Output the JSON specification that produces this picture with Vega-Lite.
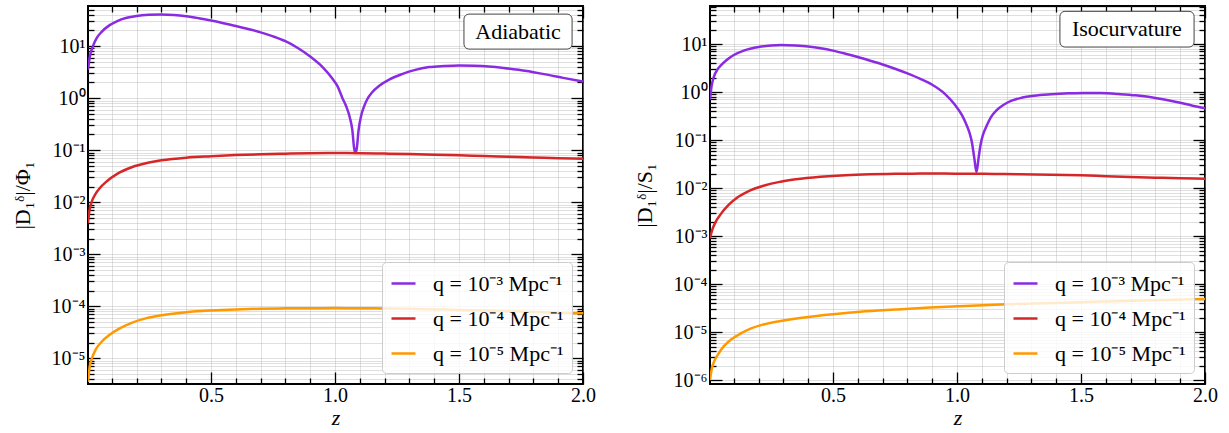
{
  "$schema": "https://vega.github.io/schema/vega-lite/v6.json",
  "padding": {"left": 10, "top": 4, "right": 5, "bottom": 3},
  "background": "white",
  "config": {
    "font": "Liberation Serif",
    "view": {"stroke": "black", "strokeWidth": 2},
    "axis": {
      "domain": false,
      "labelFont": "Liberation Serif",
      "labelColor": "black",
      "titleFont": "Liberation Serif",
      "titleFontSize": 22,
      "titleFontWeight": "normal",
      "titleColor": "black",
      "tickColor": "black",
      "tickWidth": 1.3,
      "gridColor": "#b8b8b8",
      "gridOpacity": 0.45,
      "gridWidth": 1,
      "labelOverlap": false,
      "labelFlush": false,
      "labelBound": false
    },
    "legend": {
      "orient": "bottom-right",
      "offset": 11,
      "labelFont": "Liberation Serif",
      "labelFontSize": 22,
      "labelColor": "black",
      "symbolType": "stroke",
      "symbolStrokeWidth": 2.5,
      "symbolSize": 576,
      "fillColor": "rgba(255,255,255,0.8)",
      "strokeColor": "#cccccc",
      "cornerRadius": 4,
      "padding": 8,
      "rowPadding": 10,
      "labelOffset": 16
    }
  },
  "datasets": {
    "adiabatic": [
      {"z":0.004,"v":3.5,"q":"10⁻³"},{"z":0.012,"v":6.5,"q":"10⁻³"},{"z":0.024,"v":10,"q":"10⁻³"},{"z":0.04,"v":14.5,"q":"10⁻³"},{"z":0.06,"v":19,"q":"10⁻³"},{"z":0.09,"v":25,"q":"10⁻³"},{"z":0.12,"v":30,"q":"10⁻³"},{"z":0.16,"v":35,"q":"10⁻³"},{"z":0.2,"v":38,"q":"10⁻³"},{"z":0.25,"v":40,"q":"10⁻³"},{"z":0.3,"v":40.7,"q":"10⁻³"},{"z":0.35,"v":39.8,"q":"10⁻³"},{"z":0.4,"v":37.6,"q":"10⁻³"},{"z":0.45,"v":34.4,"q":"10⁻³"},{"z":0.5,"v":31,"q":"10⁻³"},{"z":0.55,"v":27.6,"q":"10⁻³"},{"z":0.6,"v":24.4,"q":"10⁻³"},{"z":0.65,"v":21.3,"q":"10⁻³"},{"z":0.7,"v":18.4,"q":"10⁻³"},{"z":0.75,"v":15.4,"q":"10⁻³"},{"z":0.8,"v":12.4,"q":"10⁻³"},{"z":0.85,"v":9.2,"q":"10⁻³"},{"z":0.9,"v":6.3,"q":"10⁻³"},{"z":0.95,"v":3.95,"q":"10⁻³"},{"z":0.99,"v":2.35,"q":"10⁻³"},{"z":1.01,"v":1.7,"q":"10⁻³"},{"z":1.03,"v":1.0,"q":"10⁻³"},{"z":1.045,"v":0.7,"q":"10⁻³"},{"z":1.06,"v":0.42,"q":"10⁻³"},{"z":1.07,"v":0.24,"q":"10⁻³"},{"z":1.077,"v":0.11,"q":"10⁻³"},{"z":1.0825,"v":0.088,"q":"10⁻³"},{"z":1.088,"v":0.11,"q":"10⁻³"},{"z":1.095,"v":0.24,"q":"10⁻³"},{"z":1.105,"v":0.45,"q":"10⁻³"},{"z":1.115,"v":0.65,"q":"10⁻³"},{"z":1.13,"v":0.95,"q":"10⁻³"},{"z":1.15,"v":1.3,"q":"10⁻³"},{"z":1.18,"v":1.75,"q":"10⁻³"},{"z":1.22,"v":2.3,"q":"10⁻³"},{"z":1.27,"v":2.9,"q":"10⁻³"},{"z":1.32,"v":3.45,"q":"10⁻³"},{"z":1.38,"v":3.95,"q":"10⁻³"},{"z":1.44,"v":4.15,"q":"10⁻³"},{"z":1.5,"v":4.26,"q":"10⁻³"},{"z":1.56,"v":4.2,"q":"10⁻³"},{"z":1.62,"v":4.05,"q":"10⁻³"},{"z":1.68,"v":3.8,"q":"10⁻³"},{"z":1.74,"v":3.5,"q":"10⁻³"},{"z":1.8,"v":3.15,"q":"10⁻³"},{"z":1.86,"v":2.8,"q":"10⁻³"},{"z":1.92,"v":2.45,"q":"10⁻³"},{"z":2.0,"v":2.08,"q":"10⁻³"},
      {"z":0.004,"v":0.004,"q":"10⁻⁴"},{"z":0.01,"v":0.00695,"q":"10⁻⁴"},{"z":0.02,"v":0.0105,"q":"10⁻⁴"},{"z":0.035,"v":0.0146,"q":"10⁻⁴"},{"z":0.05,"v":0.0183,"q":"10⁻⁴"},{"z":0.08,"v":0.0253,"q":"10⁻⁴"},{"z":0.12,"v":0.0346,"q":"10⁻⁴"},{"z":0.18,"v":0.0469,"q":"10⁻⁴"},{"z":0.25,"v":0.0578,"q":"10⁻⁴"},{"z":0.3,"v":0.0637,"q":"10⁻⁴"},{"z":0.4,"v":0.0718,"q":"10⁻⁴"},{"z":0.5,"v":0.0765,"q":"10⁻⁴"},{"z":0.6,"v":0.0805,"q":"10⁻⁴"},{"z":0.7,"v":0.0835,"q":"10⁻⁴"},{"z":0.8,"v":0.0856,"q":"10⁻⁴"},{"z":0.9,"v":0.087,"q":"10⁻⁴"},{"z":1.0,"v":0.0878,"q":"10⁻⁴"},{"z":1.1,"v":0.0875,"q":"10⁻⁴"},{"z":1.2,"v":0.086,"q":"10⁻⁴"},{"z":1.3,"v":0.084,"q":"10⁻⁴"},{"z":1.4,"v":0.082,"q":"10⁻⁴"},{"z":1.5,"v":0.0795,"q":"10⁻⁴"},{"z":1.6,"v":0.077,"q":"10⁻⁴"},{"z":1.7,"v":0.0747,"q":"10⁻⁴"},{"z":1.8,"v":0.0723,"q":"10⁻⁴"},{"z":1.9,"v":0.07,"q":"10⁻⁴"},{"z":2.0,"v":0.068,"q":"10⁻⁴"},
      {"z":0.004,"v":0.0000035,"q":"10⁻⁵"},{"z":0.01,"v":0.0000065,"q":"10⁻⁵"},{"z":0.02,"v":0.00001,"q":"10⁻⁵"},{"z":0.036,"v":0.000015,"q":"10⁻⁵"},{"z":0.06,"v":0.000021,"q":"10⁻⁵"},{"z":0.09,"v":0.000028,"q":"10⁻⁵"},{"z":0.13,"v":0.000037,"q":"10⁻⁵"},{"z":0.18,"v":0.000048,"q":"10⁻⁵"},{"z":0.24,"v":0.000059,"q":"10⁻⁵"},{"z":0.3,"v":0.000067,"q":"10⁻⁵"},{"z":0.4,"v":0.000077,"q":"10⁻⁵"},{"z":0.5,"v":0.000083,"q":"10⁻⁵"},{"z":0.6,"v":0.000087,"q":"10⁻⁵"},{"z":0.7,"v":0.0000895,"q":"10⁻⁵"},{"z":0.8,"v":0.000091,"q":"10⁻⁵"},{"z":0.9,"v":0.0000915,"q":"10⁻⁵"},{"z":1.0,"v":0.000092,"q":"10⁻⁵"},{"z":1.1,"v":0.0000915,"q":"10⁻⁵"},{"z":1.2,"v":0.0000905,"q":"10⁻⁵"},{"z":1.3,"v":0.000089,"q":"10⁻⁵"},{"z":1.4,"v":0.000087,"q":"10⁻⁵"},{"z":1.5,"v":0.000085,"q":"10⁻⁵"},{"z":1.6,"v":0.0000825,"q":"10⁻⁵"},{"z":1.7,"v":0.00008,"q":"10⁻⁵"},{"z":1.8,"v":0.0000775,"q":"10⁻⁵"},{"z":1.9,"v":0.000075,"q":"10⁻⁵"},{"z":2.0,"v":0.000073,"q":"10⁻⁵"}
    ],
    "isocurvature": [
      {"z":0.004,"v":0.7,"q":"10⁻³"},{"z":0.01,"v":1.3,"q":"10⁻³"},{"z":0.02,"v":2.1,"q":"10⁻³"},{"z":0.035,"v":3.0,"q":"10⁻³"},{"z":0.048,"v":3.6,"q":"10⁻³"},{"z":0.07,"v":4.6,"q":"10⁻³"},{"z":0.1,"v":5.9,"q":"10⁻³"},{"z":0.14,"v":7.3,"q":"10⁻³"},{"z":0.2,"v":8.7,"q":"10⁻³"},{"z":0.25,"v":9.3,"q":"10⁻³"},{"z":0.29,"v":9.5,"q":"10⁻³"},{"z":0.35,"v":9.3,"q":"10⁻³"},{"z":0.4,"v":8.9,"q":"10⁻³"},{"z":0.45,"v":8.2,"q":"10⁻³"},{"z":0.5,"v":7.3,"q":"10⁻³"},{"z":0.55,"v":6.3,"q":"10⁻³"},{"z":0.6,"v":5.36,"q":"10⁻³"},{"z":0.65,"v":4.5,"q":"10⁻³"},{"z":0.7,"v":3.75,"q":"10⁻³"},{"z":0.75,"v":3.06,"q":"10⁻³"},{"z":0.8,"v":2.44,"q":"10⁻³"},{"z":0.85,"v":1.9,"q":"10⁻³"},{"z":0.9,"v":1.42,"q":"10⁻³"},{"z":0.95,"v":0.93,"q":"10⁻³"},{"z":0.99,"v":0.555,"q":"10⁻³"},{"z":1.02,"v":0.33,"q":"10⁻³"},{"z":1.036,"v":0.222,"q":"10⁻³"},{"z":1.05,"v":0.144,"q":"10⁻³"},{"z":1.06,"v":0.09,"q":"10⁻³"},{"z":1.07,"v":0.041,"q":"10⁻³"},{"z":1.0785,"v":0.0215,"q":"10⁻³"},{"z":1.087,"v":0.042,"q":"10⁻³"},{"z":1.095,"v":0.08,"q":"10⁻³"},{"z":1.104,"v":0.125,"q":"10⁻³"},{"z":1.12,"v":0.2,"q":"10⁻³"},{"z":1.137,"v":0.3,"q":"10⁻³"},{"z":1.16,"v":0.42,"q":"10⁻³"},{"z":1.19,"v":0.55,"q":"10⁻³"},{"z":1.22,"v":0.66,"q":"10⁻³"},{"z":1.26,"v":0.76,"q":"10⁻³"},{"z":1.31,"v":0.84,"q":"10⁻³"},{"z":1.38,"v":0.9,"q":"10⁻³"},{"z":1.45,"v":0.94,"q":"10⁻³"},{"z":1.51,"v":0.96,"q":"10⁻³"},{"z":1.58,"v":0.95,"q":"10⁻³"},{"z":1.65,"v":0.91,"q":"10⁻³"},{"z":1.72,"v":0.855,"q":"10⁻³"},{"z":1.8,"v":0.75,"q":"10⁻³"},{"z":1.88,"v":0.63,"q":"10⁻³"},{"z":1.95,"v":0.52,"q":"10⁻³"},{"z":2.0,"v":0.46,"q":"10⁻³"},
      {"z":0.004,"v":0.0009,"q":"10⁻⁴"},{"z":0.012,"v":0.0013,"q":"10⁻⁴"},{"z":0.025,"v":0.0019,"q":"10⁻⁴"},{"z":0.048,"v":0.0029,"q":"10⁻⁴"},{"z":0.08,"v":0.00451,"q":"10⁻⁴"},{"z":0.117,"v":0.0065,"q":"10⁻⁴"},{"z":0.16,"v":0.00867,"q":"10⁻⁴"},{"z":0.22,"v":0.0112,"q":"10⁻⁴"},{"z":0.28,"v":0.0133,"q":"10⁻⁴"},{"z":0.35,"v":0.0152,"q":"10⁻⁴"},{"z":0.45,"v":0.0172,"q":"10⁻⁴"},{"z":0.55,"v":0.0186,"q":"10⁻⁴"},{"z":0.65,"v":0.0194,"q":"10⁻⁴"},{"z":0.75,"v":0.0198,"q":"10⁻⁴"},{"z":0.85,"v":0.02,"q":"10⁻⁴"},{"z":0.95,"v":0.02,"q":"10⁻⁴"},{"z":1.05,"v":0.0199,"q":"10⁻⁴"},{"z":1.15,"v":0.0197,"q":"10⁻⁴"},{"z":1.25,"v":0.0194,"q":"10⁻⁴"},{"z":1.38,"v":0.019,"q":"10⁻⁴"},{"z":1.5,"v":0.0184,"q":"10⁻⁴"},{"z":1.6,"v":0.0177,"q":"10⁻⁴"},{"z":1.7,"v":0.0171,"q":"10⁻⁴"},{"z":1.8,"v":0.0165,"q":"10⁻⁴"},{"z":1.9,"v":0.016,"q":"10⁻⁴"},{"z":2.0,"v":0.0156,"q":"10⁻⁴"},
      {"z":0.004,"v":0.000001,"q":"10⁻⁵"},{"z":0.012,"v":0.0000018,"q":"10⁻⁵"},{"z":0.02,"v":0.0000024,"q":"10⁻⁵"},{"z":0.036,"v":0.0000034,"q":"10⁻⁵"},{"z":0.06,"v":0.0000051,"q":"10⁻⁵"},{"z":0.089,"v":0.000007,"q":"10⁻⁵"},{"z":0.13,"v":0.0000095,"q":"10⁻⁵"},{"z":0.17,"v":0.000012,"q":"10⁻⁵"},{"z":0.21,"v":0.000014,"q":"10⁻⁵"},{"z":0.3,"v":0.0000175,"q":"10⁻⁵"},{"z":0.41,"v":0.000021,"q":"10⁻⁵"},{"z":0.5,"v":0.0000235,"q":"10⁻⁵"},{"z":0.61,"v":0.0000265,"q":"10⁻⁵"},{"z":0.75,"v":0.0000295,"q":"10⁻⁵"},{"z":0.89,"v":0.0000325,"q":"10⁻⁵"},{"z":1.0,"v":0.0000345,"q":"10⁻⁵"},{"z":1.2,"v":0.000038,"q":"10⁻⁵"},{"z":1.4,"v":0.0000405,"q":"10⁻⁵"},{"z":1.5,"v":0.000042,"q":"10⁻⁵"},{"z":1.6,"v":0.0000435,"q":"10⁻⁵"},{"z":1.8,"v":0.000046,"q":"10⁻⁵"},{"z":2.0,"v":0.000049,"q":"10⁻⁵"}
    ]
  },
  "hconcat": [
    {
      "width": 495,
      "height": 378,
      "layer": [
        {
          "data": {"name": "adiabatic"},
          "mark": {"type": "line", "strokeWidth": 2.5, "clip": true, "interpolate": "monotone"},
          "encoding": {
            "x": {"field": "z", "type": "quantitative", "title": "z",
              "scale": {"domain": [0.004, 2], "nice": false, "zero": false},
              "axis": {"values": [0.1,0.2,0.3,0.4,0.5,0.6,0.7,0.8,0.9,1.0,1.1,1.2,1.3,1.4,1.5,1.6,1.7,1.8,1.9,2.0],
                "grid": true, "titleFontStyle": "italic", "titlePadding": 2, "labelPadding": 13,
                "labelFontSize": {"condition": {"test": "abs(datum.value*2 - round(datum.value*2)) < 0.001", "value": 20}, "value": 0},
                "tickSize": {"condition": {"test": "abs(datum.value*2 - round(datum.value*2)) < 0.001", "value": -12}, "value": -6},
                "labelExpr": "abs(datum.value*2 - round(datum.value*2)) < 0.001 ? format(datum.value, '.1f') : ''"}},
            "y": {"field": "v", "type": "quantitative", "title": "|D₁ᵟ|/Φ₁",
              "scale": {"type": "log", "domain": [0.0000032, 59], "nice": false},
              "axis": {"values": [0.000004,0.000005,0.000006,0.000007,0.000008,0.000009,0.00001,0.00002,0.00003,0.00004,0.00005,0.00006,0.00007,0.00008,0.00009,0.0001,0.0002,0.0003,0.0004,0.0005,0.0006,0.0007,0.0008,0.0009,0.001,0.002,0.003,0.004,0.005,0.006,0.007,0.008,0.009,0.01,0.02,0.03,0.04,0.05,0.06,0.07,0.08,0.09,0.1,0.2,0.3,0.4,0.5,0.6,0.7,0.8,0.9,1,2,3,4,5,6,7,8,9,10,20,30,40,50],
                "grid": true, "titlePadding": 17, "labelPadding": 15,
                "labelFontSize": {"condition": {"test": "abs(log(datum.value)/LN10 - round(log(datum.value)/LN10)) < 0.001", "value": 20}, "value": 0},
                "tickSize": {"condition": {"test": "abs(log(datum.value)/LN10 - round(log(datum.value)/LN10)) < 0.001", "value": -12}, "value": -6},
                "labelExpr": "abs(log(datum.value)/LN10 - round(log(datum.value)/LN10)) < 0.001 ? (datum.value > 5 ? '10¹' : datum.value > 0.5 ? '10⁰' : datum.value > 0.05 ? '10⁻¹' : datum.value > 0.005 ? '10⁻²' : datum.value > 0.0005 ? '10⁻³' : datum.value > 0.00005 ? '10⁻⁴' : datum.value > 0.000005 ? '10⁻⁵' : '10⁻⁶') : ''"}},
            "color": {"field": "q", "type": "nominal",
              "scale": {"domain": ["10⁻³", "10⁻⁴", "10⁻⁵"], "range": ["#8a2be2", "#d62728", "#ff9900"]},
              "legend": {"title": null, "labelExpr": "'q = ' + datum.label + ' Mpc⁻¹'"}}
          }
        },
        {
          "data": {"values": [{}]},
          "mark": {"type": "rect", "fill": "white", "stroke": "#444444", "strokeWidth": 1, "cornerRadius": 5},
          "encoding": {
            "x": {"datum": 1.52, "type": "quantitative", "scale": {"domain": [0.004, 2], "nice": false, "zero": false},
              "axis": {"orient": "top", "values": [0.1,0.2,0.3,0.4,0.5,0.6,0.7,0.8,0.9,1.0,1.1,1.2,1.3,1.4,1.5,1.6,1.7,1.8,1.9,2.0], "labels": false, "grid": false, "title": null, "minExtent": 0, "maxExtent": 0,
                "tickSize": {"condition": {"test": "abs(datum.value*2 - round(datum.value*2)) < 0.001", "value": -12}, "value": -6}}},
            "x2": {"datum": 1.956},
            "y": {"datum": 41.2, "type": "quantitative", "scale": {"type": "log", "domain": [0.0000032, 59], "nice": false},
              "axis": {"orient": "right", "values": [0.000004,0.000005,0.000006,0.000007,0.000008,0.000009,0.00001,0.00002,0.00003,0.00004,0.00005,0.00006,0.00007,0.00008,0.00009,0.0001,0.0002,0.0003,0.0004,0.0005,0.0006,0.0007,0.0008,0.0009,0.001,0.002,0.003,0.004,0.005,0.006,0.007,0.008,0.009,0.01,0.02,0.03,0.04,0.05,0.06,0.07,0.08,0.09,0.1,0.2,0.3,0.4,0.5,0.6,0.7,0.8,0.9,1,2,3,4,5,6,7,8,9,10,20,30,40,50], "labels": false, "grid": false, "title": null, "minExtent": 0, "maxExtent": 0,
                "tickSize": {"condition": {"test": "abs(log(datum.value)/LN10 - round(log(datum.value)/LN10)) < 0.001", "value": -12}, "value": -6}}},
            "y2": {"datum": 8.76}
          }
        },
        {
          "data": {"values": [{}]},
          "mark": {"type": "text", "font": "Liberation Serif", "fontSize": 22, "align": "center", "baseline": "middle", "color": "black"},
          "encoding": {
            "x": {"datum": 1.738, "type": "quantitative", "scale": {"domain": [0.004, 2], "nice": false, "zero": false}, "axis": null},
            "y": {"datum": 19, "type": "quantitative", "scale": {"type": "log", "domain": [0.0000032, 59], "nice": false}, "axis": null},
            "text": {"value": "Adiabatic"}
          }
        }
      ],
      "resolve": {"axis": {"x": "independent", "y": "independent"}}
    },
    {
      "width": 495,
      "height": 378,
      "layer": [
        {
          "data": {"name": "isocurvature"},
          "mark": {"type": "line", "strokeWidth": 2.5, "clip": true, "interpolate": "monotone"},
          "encoding": {
            "x": {"field": "z", "type": "quantitative", "title": "z",
              "scale": {"domain": [0.004, 2], "nice": false, "zero": false},
              "axis": {"values": [0.1,0.2,0.3,0.4,0.5,0.6,0.7,0.8,0.9,1.0,1.1,1.2,1.3,1.4,1.5,1.6,1.7,1.8,1.9,2.0],
                "grid": true, "titleFontStyle": "italic", "titlePadding": 2, "labelPadding": 13,
                "labelFontSize": {"condition": {"test": "abs(datum.value*2 - round(datum.value*2)) < 0.001", "value": 20}, "value": 0},
                "tickSize": {"condition": {"test": "abs(datum.value*2 - round(datum.value*2)) < 0.001", "value": -12}, "value": -6},
                "labelExpr": "abs(datum.value*2 - round(datum.value*2)) < 0.001 ? format(datum.value, '.1f') : ''"}},
            "y": {"field": "v", "type": "quantitative", "title": "|D₁ᵟ|/S₁",
              "scale": {"type": "log", "domain": [0.00000083, 62], "nice": false},
              "axis": {"values": [0.000001,0.000002,0.000003,0.000004,0.000005,0.000006,0.000007,0.000008,0.000009,0.00001,0.00002,0.00003,0.00004,0.00005,0.00006,0.00007,0.00008,0.00009,0.0001,0.0002,0.0003,0.0004,0.0005,0.0006,0.0007,0.0008,0.0009,0.001,0.002,0.003,0.004,0.005,0.006,0.007,0.008,0.009,0.01,0.02,0.03,0.04,0.05,0.06,0.07,0.08,0.09,0.1,0.2,0.3,0.4,0.5,0.6,0.7,0.8,0.9,1,2,3,4,5,6,7,8,9,10,20,30,40,50,60],
                "grid": true, "titlePadding": 17, "labelPadding": 15,
                "labelFontSize": {"condition": {"test": "abs(log(datum.value)/LN10 - round(log(datum.value)/LN10)) < 0.001", "value": 20}, "value": 0},
                "tickSize": {"condition": {"test": "abs(log(datum.value)/LN10 - round(log(datum.value)/LN10)) < 0.001", "value": -12}, "value": -6},
                "labelExpr": "abs(log(datum.value)/LN10 - round(log(datum.value)/LN10)) < 0.001 ? (datum.value > 5 ? '10¹' : datum.value > 0.5 ? '10⁰' : datum.value > 0.05 ? '10⁻¹' : datum.value > 0.005 ? '10⁻²' : datum.value > 0.0005 ? '10⁻³' : datum.value > 0.00005 ? '10⁻⁴' : datum.value > 0.000005 ? '10⁻⁵' : '10⁻⁶') : ''"}},
            "color": {"field": "q", "type": "nominal",
              "scale": {"domain": ["10⁻³", "10⁻⁴", "10⁻⁵"], "range": ["#8a2be2", "#d62728", "#ff9900"]},
              "legend": {"title": null, "labelExpr": "'q = ' + datum.label + ' Mpc⁻¹'"}}
          }
        },
        {
          "data": {"values": [{}]},
          "mark": {"type": "rect", "fill": "white", "stroke": "#444444", "strokeWidth": 1, "cornerRadius": 5},
          "encoding": {
            "x": {"datum": 1.415, "type": "quantitative", "scale": {"domain": [0.004, 2], "nice": false, "zero": false},
              "axis": {"orient": "top", "values": [0.1,0.2,0.3,0.4,0.5,0.6,0.7,0.8,0.9,1.0,1.1,1.2,1.3,1.4,1.5,1.6,1.7,1.8,1.9,2.0], "labels": false, "grid": false, "title": null, "minExtent": 0, "maxExtent": 0,
                "tickSize": {"condition": {"test": "abs(datum.value*2 - round(datum.value*2)) < 0.001", "value": -12}, "value": -6}}},
            "x2": {"datum": 1.956},
            "y": {"datum": 48, "type": "quantitative", "scale": {"type": "log", "domain": [0.00000083, 62], "nice": false},
              "axis": {"orient": "right", "values": [0.000001,0.000002,0.000003,0.000004,0.000005,0.000006,0.000007,0.000008,0.000009,0.00001,0.00002,0.00003,0.00004,0.00005,0.00006,0.00007,0.00008,0.00009,0.0001,0.0002,0.0003,0.0004,0.0005,0.0006,0.0007,0.0008,0.0009,0.001,0.002,0.003,0.004,0.005,0.006,0.007,0.008,0.009,0.01,0.02,0.03,0.04,0.05,0.06,0.07,0.08,0.09,0.1,0.2,0.3,0.4,0.5,0.6,0.7,0.8,0.9,1,2,3,4,5,6,7,8,9,10,20,30,40,50,60], "labels": false, "grid": false, "title": null, "minExtent": 0, "maxExtent": 0,
                "tickSize": {"condition": {"test": "abs(log(datum.value)/LN10 - round(log(datum.value)/LN10)) < 0.001", "value": -12}, "value": -6}}},
            "y2": {"datum": 8.66}
          }
        },
        {
          "data": {"values": [{}]},
          "mark": {"type": "text", "font": "Liberation Serif", "fontSize": 22, "align": "center", "baseline": "middle", "color": "black"},
          "encoding": {
            "x": {"datum": 1.685, "type": "quantitative", "scale": {"domain": [0.004, 2], "nice": false, "zero": false}, "axis": null},
            "y": {"datum": 20.5, "type": "quantitative", "scale": {"type": "log", "domain": [0.00000083, 62], "nice": false}, "axis": null},
            "text": {"value": "Isocurvature"}
          }
        }
      ],
      "resolve": {"axis": {"x": "independent", "y": "independent"}}
    }
  ],
  "spacing": 35,
  "resolve": {"scale": {"x": "independent", "y": "independent"}, "legend": {"color": "independent"}}
}
